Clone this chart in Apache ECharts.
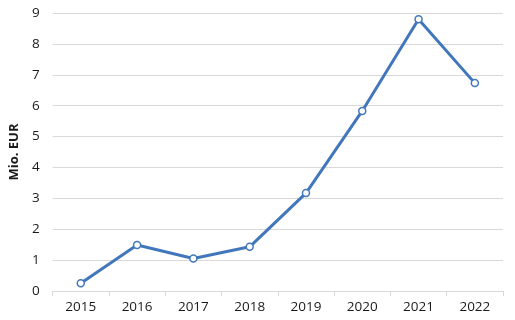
<!DOCTYPE html>
<html><head><meta charset="utf-8">
<script src="https://cdn.jsdelivr.net/npm/echarts@6/dist/echarts.min.js"></script>
<style>html,body{margin:0;padding:0;background:#fff}#c{width:515px;height:320px}</style>
</head><body><div id="c"></div>
<script>
const years = ['2015','2016','2017','2018','2019','2020','2021','2022'];
const values = [0.25, 1.49, 1.05, 1.43, 3.17, 5.83, 8.80, 6.73];
const yTitle = 'Mio. EUR';
const chart = echarts.init(document.getElementById('c'));
chart.setOption({
  animation: false,
  grid: {left: 49, right: 12, top: 13, bottom: 29},
  xAxis: {
    type: 'category', data: years, boundaryGap: true,
    axisLine: {lineStyle: {color: '#d9d9d9', width: 1}},
    axisTick: {show: true, length: 5, lineStyle: {color: '#d9d9d9'}},
    axisLabel: {color: '#1a1a1a', fontSize: 13.5, fontFamily: 'Open Sans', margin: 9}
  },
  yAxis: {
    type: 'value', min: 0, max: 9, interval: 1,
    name: yTitle, nameLocation: 'middle', nameGap: 29,
    nameTextStyle: {color: '#1a1a1a', fontSize: 13, fontWeight: 'bold', fontFamily: 'Open Sans'},
    axisLine: {show: false}, axisTick: {show: false},
    axisLabel: {color: '#1a1a1a', fontSize: 13.5, fontFamily: 'Open Sans', margin: 13},
    splitLine: {lineStyle: {color: '#d9d9d9', width: 1}}
  },
  series: [{
    type: 'line', data: values,
    lineStyle: {color: '#4277bb', width: 3},
    symbol: 'circle', symbolSize: 7,
    itemStyle: {color: '#fff', borderColor: '#4277bb', borderWidth: 1.5}
  }]
});
</script></body></html>
